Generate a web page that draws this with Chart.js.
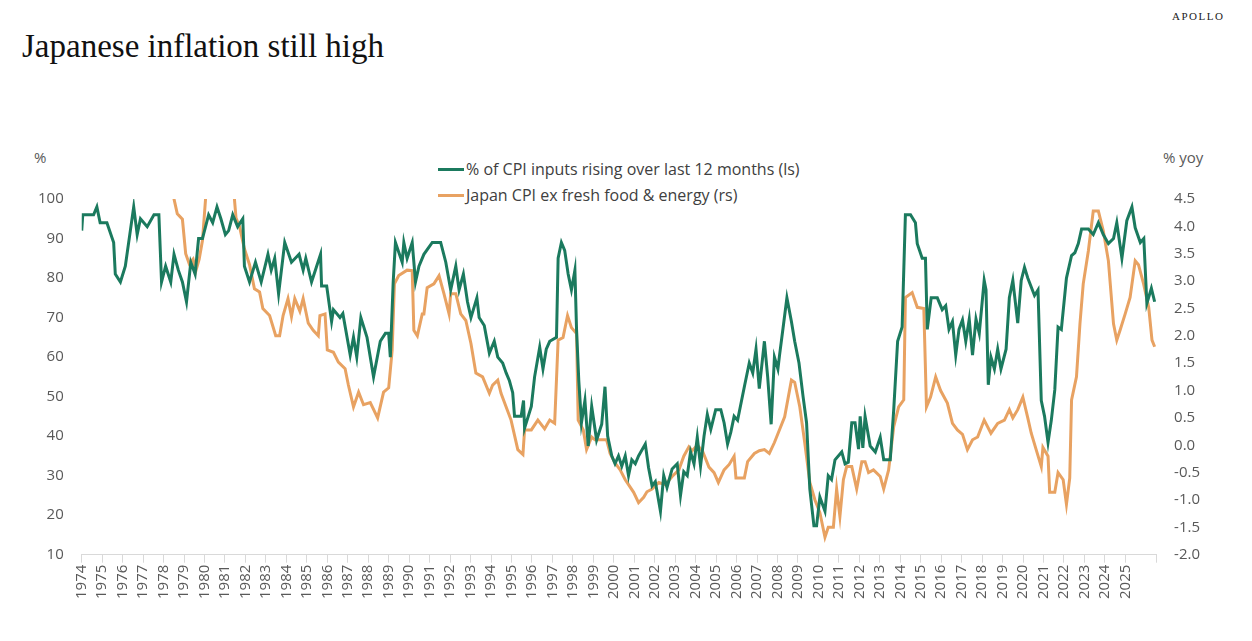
<!DOCTYPE html>
<html><head><meta charset="utf-8">
<script src="https://cdn.jsdelivr.net/npm/chart.js@4"></script>
<style>
body{margin:0;width:1252px;height:641px;background:#fff;position:relative;overflow:hidden;font-family:"Open Sans",sans-serif;color:#595959}
.t{position:absolute;white-space:nowrap}
#wrap{position:absolute;left:0;top:180px;width:1252px;height:461px}
.lg{position:absolute;left:438px;font-size:16px;color:#404040;display:flex;align-items:center}
.lg span{display:inline-block;width:26px;height:3px;margin-right:2px}
</style></head><body>
<div class="t" style="left:22px;top:28px;font-family:'Liberation Serif',serif;font-size:33px;color:#111">Japanese inflation still high</div>
<div class="t" style="left:1172px;top:10px;font-family:'Liberation Serif',serif;font-size:11px;letter-spacing:1.5px;color:#222">APOLLO</div>
<div class="t" style="left:34px;top:147px;font-size:15px">%</div>
<div class="t" style="left:1163px;top:147px;font-size:15px">% yoy</div>
<div class="lg" style="top:158px"><span style="background:#1b7a5e"></span>% of CPI inputs rising over last 12 months (ls)</div>
<div class="lg" style="top:184px"><span style="background:#e8a262"></span>Japan CPI ex fresh food &amp; energy (rs)</div>
<div id="wrap"><canvas id="c"></canvas></div>
<script>
const greenYears=[1974.0,1974.05,1974.58,1974.74,1974.9,1975.23,1975.56,1975.64,1975.89,1976.13,1976.54,1976.71,1976.87,1977.2,1977.53,1977.77,1977.9,1978.1,1978.35,1978.51,1978.72,1978.92,1979.12,1979.33,1979.54,1979.71,1979.9,1980.2,1980.4,1980.61,1980.8,1981.02,1981.18,1981.38,1981.62,1981.87,1981.95,1982.2,1982.49,1982.77,1983.1,1983.26,1983.43,1983.62,1983.92,1984.25,1984.62,1984.82,1984.95,1985.23,1985.48,1985.67,1985.72,1985.97,1986.21,1986.3,1986.62,1986.76,1987.12,1987.28,1987.44,1987.64,1987.94,1988.26,1988.59,1988.84,1989.0,1989.08,1989.22,1989.33,1989.66,1989.74,1989.9,1990.15,1990.31,1990.48,
1990.72,1991.13,1991.54,1991.79,1992.03,1992.28,1992.44,1992.65,1992.85,1993.02,1993.31,1993.42,1993.67,1993.92,1994.16,1994.33,1994.57,1994.74,1994.9,1995.06,1995.15,1995.47,1995.59,1995.64,1995.97,1996.13,1996.38,1996.54,1996.7,1996.87,1997.2,1997.28,1997.44,1997.6,1997.77,1997.93,1998.1,1998.18,1998.29,1998.42,1998.59,1998.75,1998.92,1999.16,1999.41,1999.57,1999.7,1999.9,2000.06,2000.23,2000.39,2000.56,2000.72,2000.88,2001.05,2001.21,2001.54,2001.7,2001.87,2002.03,2002.28,2002.44,2002.6,2002.85,2003.1,2003.26,2003.42,2003.59,2003.75,2003.92,2004.08,2004.24,2004.41,2004.57,2004.74,2004.98,2005.23,2005.39,2005.56,2005.72,2005.88,2006.05,2006.38,2006.62,2006.79,2006.95,2007.11,2007.36,2007.52,2007.69,2007.85,2008.02,
2008.1,2008.3,2008.46,2008.68,2008.84,2009.05,2009.25,2009.42,2009.58,2009.78,2009.91,2010.07,2010.32,2010.48,2010.64,2010.81,2011.14,2011.3,2011.46,2011.63,2011.79,2011.96,2012.04,2012.17,2012.28,2012.53,2012.78,2013.02,2013.19,2013.51,2013.68,2013.87,2014.09,2014.25,2014.5,2014.74,2014.83,2015.07,2015.23,2015.32,2015.51,2015.81,2016.05,2016.22,2016.38,2016.55,2016.71,2016.87,2017.04,2017.2,2017.37,2017.53,2017.7,2017.86,2018.1,2018.19,2018.3,2018.43,2018.6,2018.76,2018.92,2019.17,2019.33,2019.5,2019.74,2019.91,2020.07,2020.23,2020.56,2020.73,2020.89,2021.05,2021.22,2021.38,2021.55,2021.71,2021.87,2022.12,2022.37,2022.53,2022.7,2022.86,2023.19,2023.43,2023.68,2023.92,2024.17,2024.42,2024.58,2024.83,2025.07,2025.32,2025.48,2025.73,2025.9,2026.05,2026.27,2026.43];
const greenValues=[92,96,96,98,94,94,89,81,79,83,98,91,95,93,96,96,79,83,79,86,82,79,74,84,81,90,90,96,94,98,95,91,92,96,93,95,83,79,84,79,86,82,85,76,89,84,86,82,85,79,83,86,78,78,69,72,70,71,60.5,65,60,70,65,55,64,66,66,60,79,89,84,89,85,89,79,83,
86,89,89,84,77,83,77,81,74,70,75,70,68,61,64,60,58.5,56,54,51,45,45,49,42,47.5,55,62.5,57,62,64,65,85,89,87,81,77,82,67,54,43.4,49,37.5,47.5,39,43,52.5,40,35,33,35,32.4,35,30,34,33,35,38,32,27.4,28.5,21,30,27,31.7,33,25,31,30,36,33,39.7,32.4,40,45.5,41.7,46.7,46.7,43.4,38,41,45,44,52.5,58.5,56,62,52,64,55,43,60,57,
60.5,68.5,75,69,64,58.5,50,43.4,26.6,17.3,17.3,24.6,21,30,29,34,36,33,33.4,43.4,43.4,36.7,45,37,45,37.5,36,39.7,34,34,46.7,64,67.6,96,96,94,88.7,85,85,67,75,75,72,73,67,69,60.5,67,69.4,64,69.6,60.5,69.6,66,79.4,77,53,60,57,62,57,62,75,79.4,68.6,79.4,82.7,80,75.6,77,49,45,38.4,44,51.7,67.6,67,80,85.7,86.4,88.7,92.4,92.4,91,94,91,88.7,90,94,85,94.5,98,92.7,89,90,73.6,77.4,74];
const orangeYears=[1978.43,1978.51,1978.67,1978.92,1979.08,1979.25,1979.44,1979.58,1979.74,1979.9,1980.15,1981.35,1981.54,1981.71,1981.95,1982.2,1982.44,1982.69,1982.85,1983.18,1983.48,1983.67,1983.84,1984.08,1984.25,1984.41,1984.66,1984.82,1985.07,1985.31,1985.56,1985.64,1985.89,1986.0,1986.3,1986.54,1986.87,1987.03,1987.28,1987.53,1987.77,1988.1,1988.46,1988.75,1989.0,1989.17,1989.28,1989.49,1989.9,1990.15,1990.23,1990.4,1990.64,
1990.72,1990.88,1991.21,1991.46,1991.7,1991.95,1992.03,1992.28,1992.52,1992.77,1993.02,1993.26,1993.59,1993.92,1994.08,1994.33,1994.49,1994.74,1994.98,1995.31,1995.56,1995.64,1995.97,1996.29,1996.62,1996.87,1997.11,1997.28,1997.52,1997.74,1997.93,1998.18,1998.26,1998.51,1998.67,1998.92,1999.08,1999.41,1999.65,1999.82,2000.06,2000.31,2000.56,2000.72,2000.97,2001.21,2001.46,2001.62,2001.87,2002.2,2002.52,2002.85,2003.18,2003.42,2003.67,2003.83,2004.08,2004.33,2004.65,2004.9,2005.11,2005.39,2005.64,2005.88,2005.97,2006.38,2006.54,2006.87,2007.11,2007.36,2007.6,2007.85,
2008.35,2008.68,2008.84,2009.09,2009.33,2009.58,2009.83,2010.07,2010.32,2010.48,2010.73,2010.89,2011.05,2011.22,2011.38,2011.63,2011.87,2012.12,2012.28,2012.45,2012.69,2013.02,2013.19,2013.43,2013.68,2013.92,2014.17,2014.25,2014.58,2014.83,2015.15,2015.28,2015.48,2015.73,2015.97,2016.3,2016.55,2016.79,2017.04,2017.28,2017.53,2017.78,2018.1,2018.43,2018.76,2019.09,2019.33,2019.5,2019.74,2019.99,2020.23,2020.4,2020.64,2020.89,2020.97,2021.22,2021.3,2021.55,2021.71,2021.96,2022.12,2022.28,2022.37,2022.61,2022.78,2022.94,2023.19,2023.43,2023.68,2023.92,2024.17,2024.42,2024.58,2024.74,2024.99,2025.23,2025.48,2025.64,2025.89,2026.14,2026.3,2026.43];
const orangeValues=[5.0,4.5,4.23,4.13,3.5,3.32,3.4,3.19,3.4,3.74,5.0,5.0,4.15,4.0,3.59,3.3,2.86,2.8,2.5,2.37,2.0,2.0,2.37,2.68,2.35,2.68,2.45,2.68,2.23,2.1,2.0,2.37,2.4,1.74,1.7,1.52,1.4,1.1,0.7,0.97,0.74,0.78,0.5,0.97,1.05,1.74,2.95,3.1,3.2,3.19,2.1,2.0,2.4,
2.4,2.88,2.95,3.1,2.77,2.4,2.77,2.77,2.4,2.28,1.86,1.32,1.25,0.95,1.1,1.19,0.95,0.7,0.46,-0.08,-0.17,0.28,0.28,0.46,0.3,0.46,0.4,1.92,1.97,2.37,2.15,2.04,0.46,0.28,-0.08,0.15,0.1,0.1,0.1,-0.15,-0.32,-0.45,-0.63,-0.72,-0.86,-1.05,-0.95,-0.85,-0.8,-0.68,-0.72,-0.57,-0.45,-0.2,-0.03,-0.1,0.0,-0.1,-0.4,-0.5,-0.68,-0.45,-0.35,-0.2,-0.6,-0.6,-0.3,-0.15,-0.1,-0.08,-0.15,0.05,
0.52,1.19,1.15,0.7,0.05,-0.68,-1.0,-1.23,-1.68,-1.5,-1.5,-0.8,-1.3,-0.63,-0.39,-0.39,-0.8,-0.3,-0.3,-0.5,-0.45,-0.57,-0.8,-0.45,0.34,0.7,0.83,2.7,2.79,2.52,2.5,0.7,0.88,1.25,1.0,0.77,0.4,0.28,0.2,-0.08,0.1,0.15,0.46,0.22,0.4,0.46,0.65,0.5,0.65,0.88,0.5,0.22,-0.08,-0.39,-0.04,-0.2,-0.86,-0.86,-0.5,-0.63,-1.08,-0.6,0.83,1.25,2.22,2.95,3.55,4.28,4.28,3.92,3.37,2.22,1.92,2.1,2.4,2.7,3.37,3.3,2.95,2.52,1.92,1.8];
const leftTicks={min:10,max:100,step:10};
const rightTicks={min:-2.0,max:4.5,step:0.5};
const xRange={min:1974,max:2026.5};

const pts=(xs,ys)=>xs.map((x,i)=>({x:x,y:ys[i]}));
const tickFont={family:"Open Sans",size:15};
new Chart(document.getElementById('c'),{
 type:'line',
 data:{datasets:[
  {label:'% of CPI inputs rising over last 12 months (ls)',data:pts(greenYears,greenValues),yAxisID:'yL',borderColor:'#1b7a5e',borderWidth:3,pointRadius:0,tension:0},
  {label:'Japan CPI ex fresh food & energy (rs)',data:pts(orangeYears,orangeValues),yAxisID:'yR',borderColor:'#e8a262',borderWidth:3,pointRadius:0,tension:0}
 ]},
 options:{responsive:true,maintainAspectRatio:false,animation:false,parsing:false,
  layout:{padding:{top:14,left:28,right:42,bottom:40}},
  plugins:{legend:{display:false},tooltip:{enabled:false}},
  scales:{
   x:{type:'linear',min:xRange.min,max:xRange.max,
      grid:{drawOnChartArea:false,drawTicks:true,tickLength:8,color:'#d9d9d9'},
      border:{color:'#d9d9d9'},
      ticks:{stepSize:1,autoSkip:false,maxRotation:90,minRotation:90,color:'#595959',font:tickFont,padding:2,callback:v=>Number.isInteger(v)?String(v):''}},
   yL:{position:'left',min:leftTicks.min,max:leftTicks.max,grid:{display:false},border:{display:false},
      ticks:{stepSize:leftTicks.step,color:'#595959',font:tickFont,padding:10}},
   yR:{position:'right',min:rightTicks.min,max:rightTicks.max,grid:{display:false},border:{display:false},
      ticks:{stepSize:rightTicks.step,color:'#595959',font:tickFont,padding:10,callback:v=>v.toFixed(1)}}
  }}
});
</script></body></html>
